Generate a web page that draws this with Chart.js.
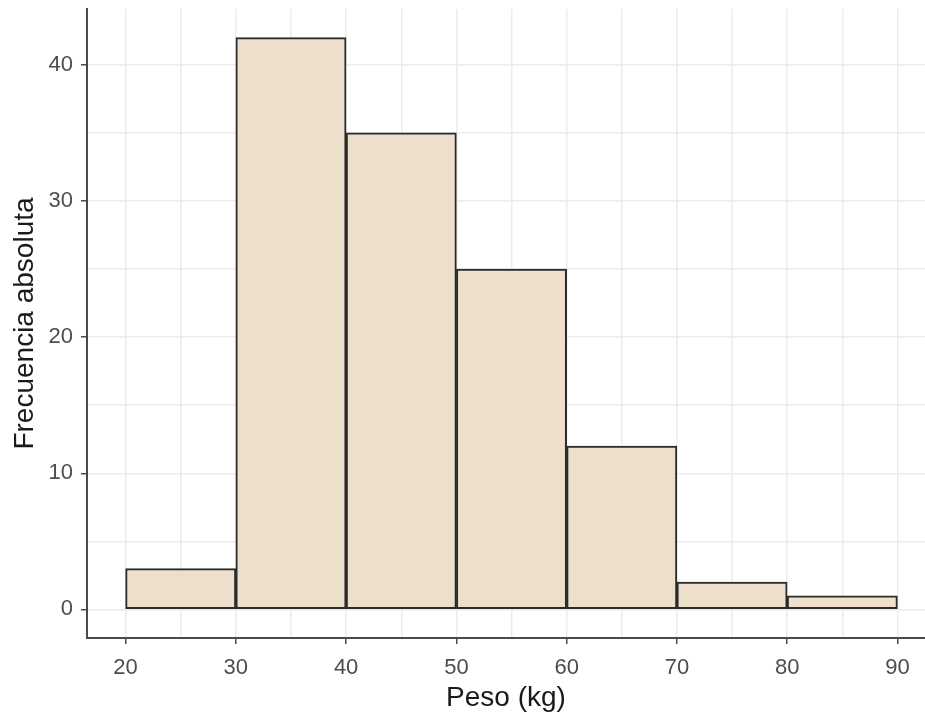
<!DOCTYPE html>
<html>
<head>
<meta charset="utf-8">
<script src="https://cdn.jsdelivr.net/npm/chart.js@4.4.1/dist/chart.umd.min.js"></script>
<style>
html, body { margin: 0; padding: 0; background: #fff; }
#wrap { width: 925px; height: 717px; }
</style>
</head>
<body>
<div id="wrap"><canvas id="histChart"></canvas></div>
<script>
// Datos del histograma (Peso en kg)
const binStarts = [20, 30, 40, 50, 60, 70, 80];
const binWidth = 10;
const counts = [3, 42, 35, 25, 12, 2, 1];
const xTickLabels = [20, 30, 40, 50, 60, 70, 80, 90];
const yTickLabels = [0, 10, 20, 30, 40];

const gridColor = '#ebebeb';
const axisColor = '#4a4a4a';
const tickFont = { family: 'Liberation Sans, Arial, sans-serif', size: 22 };
const titleFont = { family: 'Liberation Sans, Arial, sans-serif', size: 28 };

// líneas menores a mitad de cada paso
function withMinor(major) {
    const out = [];
    for (let i = 0; i < major.length; i++) {
        out.push(major[i]);
        if (i < major.length - 1) out.push((major[i] + major[i + 1]) / 2);
    }
    return out;
}

const histData = {
    datasets: [{
        data: binStarts.map((s, i) => ({ x: s + binWidth / 2, y: counts[i] })),
        backgroundColor: '#EDDFCC',
        borderColor: '#2b2b2b',
        borderWidth: 2,
        borderSkipped: false,
        barThickness: 'flex',
        barPercentage: 1,
        categoryPercentage: 1,
    }],
};

const histOptions = {
    responsive: true,
    maintainAspectRatio: false,
    animation: false,
    layout: { padding: { top: 9, right: 0, left: 0, bottom: 0 } },
    plugins: {
        legend: { display: false },
        tooltip: { enabled: false },
    },
    scales: {
        x: {
            type: 'linear',
            min: 16.5,
            max: 92.5,
            offset: false,
            afterBuildTicks: (axis) => { axis.ticks = withMinor(xTickLabels).map(v => ({ value: v })); },
            afterFit: (axis) => {
                axis.height = 79;
                axis.paddingLeft = 0;
                axis.paddingRight = 0;
            },
            grid: {
                offset: false,
                color: gridColor,
                lineWidth: 1.5,
                drawTicks: true,
                tickLength: 6,
                tickWidth: 1.5,
                tickColor: (ctx) => xTickLabels.includes(ctx.tick.value) ? axisColor : 'rgba(0,0,0,0)',
            },
            border: { display: true, color: axisColor, width: 2 },
            ticks: {
                autoSkip: false,
                maxRotation: 0,
                padding: 11,
                color: '#4d4d4d',
                font: tickFont,
                callback: (v) => xTickLabels.includes(v) ? String(v) : '',
            },
            title: {
                display: true,
                text: 'Peso (kg)',
                color: '#1a1a1a',
                font: titleFont,
                padding: { top: 2, bottom: 2 },
            },
        },
        y: {
            type: 'linear',
            min: -2.1,
            max: 44.1,
            afterBuildTicks: (axis) => { axis.ticks = withMinor(yTickLabels).map(v => ({ value: v })); },
            afterFit: (axis) => {
                axis.width = 87;
                axis.paddingTop = 0;
                axis.paddingBottom = 0;
            },
            grid: {
                color: gridColor,
                lineWidth: 1.5,
                drawTicks: true,
                tickLength: 6,
                tickWidth: 1.5,
                tickColor: (ctx) => yTickLabels.includes(ctx.tick.value) ? axisColor : 'rgba(0,0,0,0)',
            },
            border: { display: true, color: axisColor, width: 2 },
            ticks: {
                autoSkip: false,
                padding: 8,
                color: '#4d4d4d',
                font: tickFont,
                callback: (v) => yTickLabels.includes(v) ? String(v) : '',
            },
            title: {
                display: true,
                text: 'Frecuencia absoluta',
                color: '#1a1a1a',
                font: titleFont,
                padding: { top: 8, bottom: 8 },
            },
        },
    },
};

const histCtx = document.getElementById('histChart').getContext('2d');
new Chart(histCtx, { type: 'bar', data: histData, options: histOptions });
</script>
</body>
</html>
